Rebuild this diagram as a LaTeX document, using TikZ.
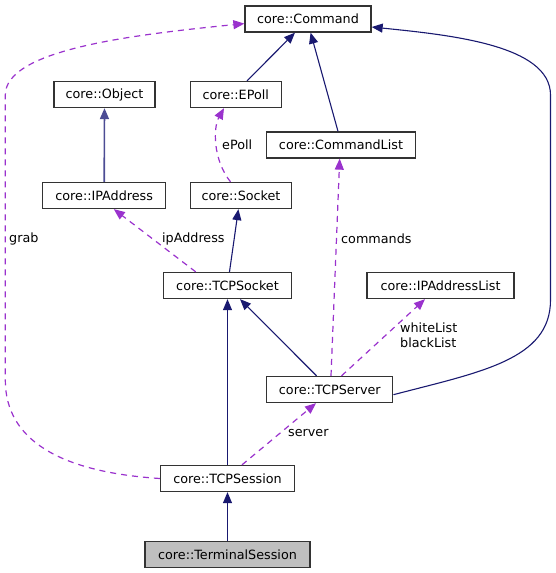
\documentclass[tikz,border=0pt]{standalone}
\usepackage{fontspec}
\setmainfont{DejaVu Sans}
\usetikzlibrary{arrows.meta,calc}
\definecolor{inh}{HTML}{191970}
\definecolor{inhlight}{HTML}{4C4C94}
\definecolor{use}{HTML}{9A32CD}
\definecolor{bord}{HTML}{333333}
\begin{document}
\begin{tikzpicture}[x=1pt,y=-1pt,
  every node/.style={font=\fontsize{12.75}{15}\selectfont},
  cls/.style={draw=bord,line width=1.3pt,fill=white,minimum height=26pt,inner sep=0pt,anchor=center},
  inhedge/.style={draw=inh,line width=1.1pt,-{Triangle[length=11pt,width=9pt]}},
  useedge/.style={draw=use,line width=1.2pt,dash pattern=on 6pt off 5pt,-{Triangle[length=11pt,width=9pt]}},
  lbl/.style={anchor=west,inner sep=0pt}]
\useasboundingbox (0,0) rectangle (555,573);
\node[cls,minimum width=126pt] (command) at (308,19) {core::Command};
\node[cls,minimum width=101pt] (object) at (104.5,94.5) {core::Object};
\node[cls,minimum width=91pt] (epoll) at (235.7,94.5) {core::EPoll};
\node[cls,minimum width=149pt] (cmdlist) at (341,145) {core::CommandList};
\node[cls,minimum width=123pt] (ipaddr) at (104.2,195.5) {core::IPAddress};
\node[cls,minimum width=101pt] (socket) at (241,195.5) {core::Socket};
\node[cls,minimum width=128pt] (tcpsocket) at (227.5,285.5) {core::TCPSocket};
\node[cls,minimum width=147pt] (iplist) at (440.6,285.5) {core::IPAddressList};
\node[cls,minimum width=126pt] (tcpserver) at (329.8,389.5) {core::TCPServer};
\node[cls,minimum width=134pt] (tcpsession) at (227.5,478.5) {core::TCPSession};
\node[cls,minimum width=165pt,fill={rgb,255:red,191;green,191;blue,191}] (terminal) at (227.5,554.5) {core::TerminalSession};

% inheritance
\draw[inhedge] ([xshift=11.3pt]epoll.north) -- ([xshift=-13pt]command.south);
\draw[inhedge] ([xshift=-3pt]cmdlist.north) -- ([xshift=2.6pt]command.south);
\draw[inhedge,draw=inhlight,line width=1.6pt] (ipaddr.north) -- (object.south);
\draw[inhedge] ([xshift=2pt]tcpsocket.north) -- ([xshift=-2.6pt]socket.south);
\draw[inhedge] ([xshift=-13.2pt]tcpserver.north) -- ([xshift=12.5pt]tcpsocket.south);
\draw[inhedge] (tcpsession.north) -- (tcpsocket.south);
\draw[inhedge] (terminal.north) -- (tcpsession.south);
\draw[inhedge] ([yshift=-5.2pt]tcpserver.east) .. controls (480,372) and (550.5,360) .. (550.5,300) -- (550.5,95) .. controls (550.5,45) and (450,35) .. ([yshift=-8pt]command.east);

% usage
\draw[useedge] ([xshift=-31.8pt]tcpsocket.north) -- ([xshift=9.6pt]ipaddr.south);
\node[lbl] (lip) at (162,239) {ipAddress};
\draw[useedge] ([xshift=-10.5pt]socket.north) .. controls (213,160) and (213,128) .. ([xshift=-11.7pt]epoll.south);
\node[lbl] (lep) at (222,145) {ePoll};
\draw[useedge] ([xshift=1.2pt]tcpserver.north) -- ([xshift=-1.3pt]cmdlist.south);
\node[lbl] (lcm) at (341,239) {commands};
\draw[useedge] ([xshift=11.7pt]tcpserver.north) -- ([xshift=-15.6pt]iplist.south);
\node[lbl,align=left] (lwl) at (400,335.5) {whiteList\\blackList};
\draw[useedge] ([xshift=14.5pt]tcpsession.north) -- ([xshift=-13.8pt]tcpserver.south);
\node[lbl] (lsv) at (288,432.7) {server};
\draw[useedge] (tcpsession.west) .. controls (60,472) and (5.3,440) .. (5.3,380) -- (5.3,95) .. controls (5.3,50) and (130,35) .. ([yshift=-4.6pt]command.west);
\node[lbl] (lgr) at (9,239) {grab};
\end{tikzpicture}
\end{document}
